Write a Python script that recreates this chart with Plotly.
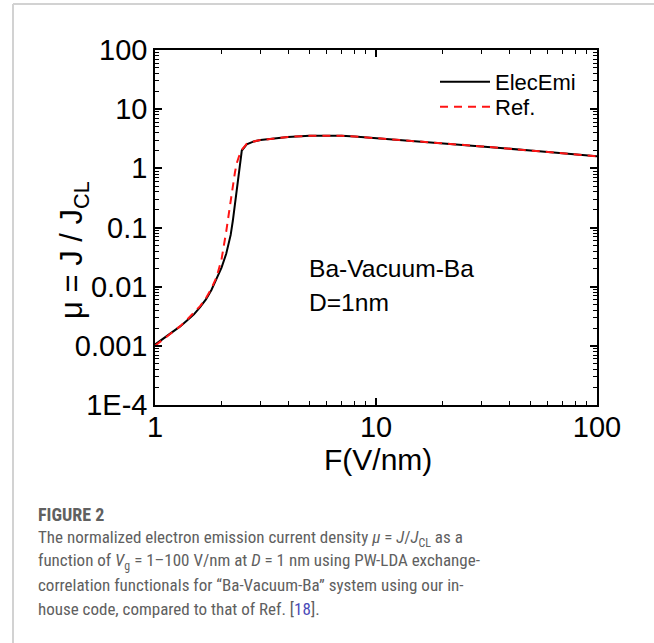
import plotly.graph_objects as go

# Normalized emission current density mu = J/J_CL vs. gap field F (V/nm)
# Ba-Vacuum-Ba, D = 1 nm
field_elecemi = [1.0, 1.1, 1.2, 1.3, 1.4, 1.5, 1.6, 1.7, 1.8, 1.9, 2.0, 2.1, 2.2,
                 2.25, 2.3, 2.35, 2.4, 2.47, 2.6, 2.8, 3.0, 3.5, 4.0, 5.0, 6.0, 7.0,
                 8.0, 10, 15, 20, 30, 50, 70, 100]
mu_elecemi = [0.00105, 0.00135, 0.0017, 0.00213, 0.0027, 0.0034, 0.0045, 0.0061,
              0.0088, 0.0133, 0.021, 0.036, 0.075, 0.13, 0.25, 0.45, 0.8, 2.0,
              2.55, 2.85, 3.0, 3.25, 3.4, 3.55, 3.6, 3.55, 3.45, 3.25, 2.9, 2.65,
              2.35, 2.0, 1.8, 1.6]

field_ref = [1.0, 1.1, 1.2, 1.3, 1.4, 1.5, 1.6, 1.7, 1.8, 1.9, 1.95, 2.0, 2.1,
             2.15, 2.2, 2.3, 2.34, 2.4, 2.47, 2.6, 2.8, 3.0, 3.5, 4.0, 5.0,
             6.0, 7.0, 8.0, 10, 15, 20, 30, 50, 70, 100]
mu_ref = [0.001, 0.00132, 0.0017, 0.00215, 0.0028, 0.0036, 0.0047, 0.0064,
          0.0093, 0.0145, 0.020, 0.029, 0.085, 0.17, 0.28, 0.85, 1.2, 1.6, 2.05,
          2.6, 2.85, 3.0, 3.25, 3.4, 3.55, 3.6, 3.55, 3.45, 3.25, 2.9, 2.65,
          2.35, 2.0, 1.8, 1.6]

ytick_vals = [1e-4, 1e-3, 1e-2, 0.1, 1, 10, 100]
ytick_text = ["1E-4", "0.001", "0.01", "0.1", "1", "10", "100"]
xtick_vals = [1, 10, 100]
xtick_text = ["1", "10", "100"]

W, H = 654, 643
L, R, T, B = 155, 57, 50, 238
PW, PH = W - L - R, H - T - B


def px(x):
    return (x - L) / PW


def py(y):
    return (H - B - y) / PH


FONT = "Liberation Sans, Arial, sans-serif"
CAP_FONT = "Liberation Sans Narrow, Roboto Condensed, Roboto, sans-serif"
CAP_COLOR = "#606060"

fig = go.Figure()
fig.add_trace(go.Scatter(x=field_elecemi, y=mu_elecemi, mode="lines", name="ElecEmi",
                         line=dict(color="black", width=2), legend="legend"))
fig.add_trace(go.Scatter(x=field_ref, y=mu_ref, mode="lines", name="Ref.",
                         line=dict(color="#ff1414", width=2, dash="8px,6px"), legend="legend2"))

x_minor = [k * 10 ** e for e in range(0, 2) for k in range(2, 10)]
y_minor = [k * 10.0 ** e for e in range(-4, 2) for k in range(2, 10)]

axis_common = dict(type="log", showline=True, linecolor="black", linewidth=1.5,
                   mirror="allticks", ticks="inside", ticklen=7, tickwidth=1.5,
                   tickcolor="black", showgrid=False, zeroline=False,
                   tickfont=dict(family=FONT, size=29, color="black"))

fig.update_xaxes(range=[0, 2], tickmode="array", tickvals=xtick_vals, ticktext=xtick_text,
                 ticklabelstandoff=-5,
                 minor=dict(ticks="inside", ticklen=4, tickwidth=1, tickcolor="black",
                            tickmode="array", tickvals=x_minor, showgrid=False),
                 **axis_common)
fig.update_yaxes(range=[-4, 2], tickmode="array", tickvals=ytick_vals, ticktext=ytick_text,
                 minor=dict(ticks="inside", ticklen=4, tickwidth=1, tickcolor="black",
                            tickmode="array", tickvals=y_minor, showgrid=False),
                 **axis_common)

annotations = [
    dict(x=px(378), y=py(459), text="F(V/nm)", font=dict(family=FONT, size=30, color="black"),
         xanchor="center", yanchor="middle"),
    dict(x=px(74), y=py(250), text="μ = J / J<sub>CL</sub>", textangle=-90,
         font=dict(family=FONT, size=31, color="black"), xanchor="center", yanchor="middle"),
    dict(x=px(307), y=py(268), text="Ba-Vacuum-Ba", font=dict(family=FONT, size=24.6, color="black"),
         xanchor="left", yanchor="middle"),
    dict(x=px(307), y=py(302), text="D=1nm", font=dict(family=FONT, size=24.6, color="black"),
         xanchor="left", yanchor="middle"),
    dict(x=px(36), y=py(514), text="<b>FIGURE 2</b>", font=dict(family=CAP_FONT, size=18, color=CAP_COLOR),
         xanchor="left", yanchor="middle"),
]

caption_lines = [
    "The normalized electron emission current density <i>μ</i> = <i>J</i>/<i>J</i><sub>CL</sub> as a",
    "function of <i>V</i><sub>g</sub> = 1–100 V/nm at <i>D</i> = 1 nm using PW-LDA exchange-",
    "correlation functionals for “Ba-Vacuum-Ba” system using our in-",
    "house code, compared to that of Ref. [<span style='color:#4a4ab8'>18</span>].",
]
for i, line in enumerate(caption_lines):
    annotations.append(dict(x=px(36), y=py(538 + 23.7 * i), text=line,
                            font=dict(family=CAP_FONT, size=17, color=CAP_COLOR),
                            xanchor="left", yanchor="middle"))

for a in annotations:
    a.update(xref="paper", yref="paper", showarrow=False)

shapes = [
    dict(type="line", xref="paper", yref="paper", x0=px(13), x1=px(700), y0=py(4), y1=py(4),
         line=dict(color="#d2d2d2", width=2)),
    dict(type="line", xref="paper", yref="paper", x0=px(13), x1=px(13), y0=py(4), y1=py(700),
         line=dict(color="#d2d2d2", width=2)),
]

legend_style = dict(xanchor="left", yanchor="middle", itemwidth=50,
                    font=dict(family=FONT, size=22, color="black"),
                    bgcolor="rgba(0,0,0,0)")

fig.update_layout(
    width=W, height=H, margin=dict(l=L, r=R, t=T, b=B),
    paper_bgcolor="white", plot_bgcolor="white",
    annotations=annotations, shapes=shapes,
    showlegend=True,
    legend=dict(x=px(435), y=py(82), **legend_style),
    legend2=dict(x=px(435), y=py(107), **legend_style),
)

fig.write_html("out.html")
